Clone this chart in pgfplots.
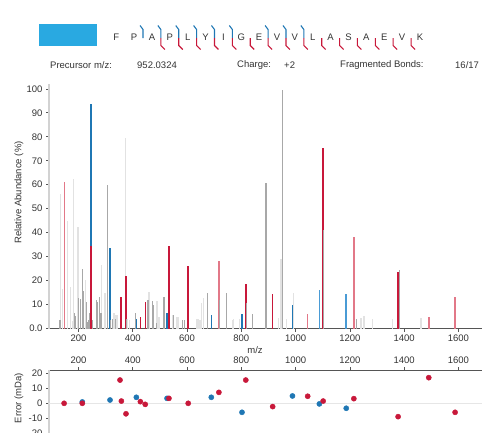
\documentclass[border=0pt]{standalone}
\usepackage{fontspec}
\setmainfont{Liberation Sans}
\usepackage{pgfplots}
\pgfplotsset{compat=1.18}
\definecolor{seqblue}{HTML}{29A9E1}
\definecolor{bblue}{HTML}{1F77B4}
\definecolor{bblue2}{HTML}{4A9BD5}
\definecolor{rred}{HTML}{C8183A}
\definecolor{rred2}{HTML}{E27888}
\definecolor{dgray}{HTML}{A8A8A8}
\definecolor{lgray}{HTML}{E2E2E2}
\definecolor{axgray}{HTML}{555555}
\definecolor{ylgray}{HTML}{D2D2D2}
\definecolor{lblgray}{HTML}{333333}
\definecolor{zgray}{HTML}{E6E6E6}
\newcommand{\lf}{\fontsize{9.5}{11}\selectfont}
\begin{document}
\begin{tikzpicture}[x=1pt,y=1pt]
\useasboundingbox (0pt,0pt) rectangle (482pt,-432pt);
\clip (0pt,0pt) rectangle (482pt,-432pt);
% header
\fill[seqblue] (39pt,-24pt) rectangle (97pt,-46pt);
\foreach \l [count=\i from 0] in {F,P,A,P,L,Y,I,G,E,V,V,L,A,S,A,E,V,K}
  \node[font=\lf, text=lblgray, inner sep=0pt] at ({116.2pt+17.87pt*\i},-37pt) {\l};
\foreach \k in {2,3,4,5,6,7,9,10,11}
  \draw[bblue, line width=1.1pt] ({116.2pt+17.87pt*(\k-0.5)-3pt},-25.5pt) -- ({116.2pt+17.87pt*(\k-0.5)},-29.5pt) -- ({116.2pt+17.87pt*(\k-0.5)},-38pt);
\foreach \k in {3,4,5,6,7,8,9,10,11,12,13,14,15,16,17}
  \draw[rred, line width=1.1pt] ({116.2pt+17.87pt*(\k-0.5)},-38pt) -- ({116.2pt+17.87pt*(\k-0.5)},-45.5pt) -- ({116.2pt+17.87pt*(\k-0.5)+4pt},-49.5pt);
\node[font=\lf, text=lblgray, anchor=west, inner sep=0pt] at (50pt,-65pt) {Precursor m/z:};
\node[font=\lf, text=lblgray, anchor=west, inner sep=0pt] at (137pt,-65pt) {952.0324};
\node[font=\lf, text=lblgray, anchor=west, inner sep=0pt] at (237pt,-65pt) {Charge:};
\node[font=\lf, text=lblgray, anchor=west, inner sep=0pt] at (284pt,-65pt) {+2};
\node[font=\lf, text=lblgray, anchor=west, inner sep=0pt] at (340pt,-65pt) {Fragmented Bonds:};
\node[font=\lf, text=lblgray, anchor=west, inner sep=0pt] at (455pt,-65pt) {16/17};
% main spectrum
\begin{axis}[
  at={(49pt,-328.6pt)}, anchor=south west,
  scale only axis, width=433pt, height=244.6pt,
  xmin=91.3, xmax=1687, ymin=0, ymax=102,
  axis x line=bottom, axis y line=left,
  axis line style={-},
  x axis line style={draw=axgray, line width=0.7pt},
  y axis line style={draw=ylgray, line width=1.8pt},
  xtick={200,400,...,1600}, ytick={0,10,...,100},
  yticklabels={0.0,10,20,30,40,50,60,70,80,90,100},
  tick align=outside, major tick length=3pt,
  tick style={draw=axgray, line width=0.6pt},
  ticklabel style={font=\lf, text=lblgray},
  /pgf/number format/assume math mode=true,
  /pgf/number format/1000 sep={},
  scaled ticks=false,
]
\addplot[ycomb, draw=lgray, line width=1.2pt, mark=none] coordinates {
(135,56) (140,16.5) (159,45) (170,17.2) (177,3.2) (182,62.3) (198,42.5) (226,20.4)
(284,26.5) (298,14.7) (331,6.7) (338,5.6) (342,5.8) (373,79.4) (380,4) (389,3.5)
(460,15.2) (489,11.5) (497,5) (548,5.6) (563,5) (567,4.8) (637,4) (643,4) (648,3.6)
(653,10.8) (660,12.6) (768,3.4) (772,4) (792,3.9) (938,4.4) (946,29) (967,4) (993,14.7)
(1241,4.5) (1252,5.2) (1283,4.2) (1358,4.2) (1462,4.6)
};
\addplot[ycomb, draw=bblue, line width=1.6pt, mark=none] coordinates {
(245.1,93.7) (316.2,33.8) (413.2,4.1) (526.3,6.4) (689.4,5.8) (802.5,6) (988.5,9.9)
};
\addplot[ycomb, draw=bblue2, line width=1.6pt, mark=none] coordinates {
(1087.6,16.1) (1186.7,14.3)
};
\addplot[ycomb, draw=dgray, line width=0.8pt, mark=none] coordinates {
(1381,24.4)
};
\addplot[ycomb, draw=rred2, line width=1.6pt, mark=none] coordinates {
(148.1,61.3) (247.5,22.4) (717.4,28.4) (1044.6,6.1) (1214.7,38.4) (1490.8,5) (1587.9,13.3)
};
\addplot[ycomb, draw=rred, line width=1.6pt, mark=none] coordinates {
(246.2,34.3) (357.2,13.3) (375.2,22) (376.6,21.5) (428.3,5) (446.3,11.2) (533.3,34.6)
(604.3,26.1) (816.5,18.8) (915.6,14.3) (1101.6,75.5) (1377.8,23.8)
};
\addplot[ycomb, draw=dgray, line width=1.1pt, mark=none] coordinates {
(132,3.6) (185,6.4) (189,5.4) (199,12.6) (209,12.5) (216,24.8) (219,15.5) (231,11) (234,2.9)
(237,3.6) (242,6.3) (252,3.4) (265,11.9) (270,11.3) (276,3) (278,13) (283,6.5) (305.5,60)
(308,3) (317,3.5) (325,4) (336,4) (378,4) (411,6.7) (456,11.9) (472,11.5) (475,10)
(487,2.5) (515,13) (518,8) (550,5.7) (584,3.6) (590,3.4) (674,15) (719,12.1) (745,15)
(818,10.8) (840,6) (891,60.6) (893,5.8) (952,99.6) (1103,41) (1226,3.9)
};
\end{axis}
\node[font=\lf, text=lblgray, rotate=90] at (19pt,-192.5pt) {Relative Abundance (\%)};
\node[font=\lf, text=lblgray] at (255pt,-350pt) {m/z};
% error plot
\begin{axis}[
  at={(49pt,-370pt)}, anchor=north west,
  scale only axis, width=433pt, height=66.6pt,
  xmin=91.3, xmax=1687, ymin=-22.2, ymax=22.2,
  axis x line=top, axis y line=left,
  axis line style={-},
  x axis line style={draw=axgray, line width=0.7pt},
  y axis line style={draw=ylgray, line width=1.8pt},
  xtick={200,400,...,1600}, ytick={-20,-10,0,10,20},
  tick align=outside, major tick length=3pt,
  tick style={draw=axgray, line width=0.6pt},
  ticklabel style={font=\lf, text=lblgray},
  /pgf/number format/assume math mode=true,
  /pgf/number format/1000 sep={},
  scaled ticks=false, clip=false,
]
\addplot[draw=zgray, line width=0.8pt, mark=none] coordinates {(91.3,0) (1687,0)};
\addplot[only marks, color=bblue, mark=*, mark size=2.6pt, mark options={draw=bblue, fill=bblue}] coordinates {
(214,0.9) (316.2,2.2) (413.2,4) (526.3,3.3) (689.4,4) (802.5,-6) (988.5,4.9) (1087.6,-0.4) (1186.7,-3.3)
};
\addplot[only marks, color=rred, mark=*, mark size=2.6pt, mark options={draw=rred, fill=rred}] coordinates {
(147,0) (214,0) (353,15.5) (358,1.5) (375,-7) (428,1.1) (446,-0.7) (533.3,3.3) (604.3,0)
(717.4,7.3) (816.5,15.5) (915.6,-2.2) (1044.6,4.7) (1101.6,1.5) (1214.7,3.1) (1377.8,-8.9)
(1490.8,17.1) (1587.9,-6)
};
\end{axis}
\node[font=\lf, text=lblgray, rotate=90] at (19pt,-398pt) {Error (mDa)};
\end{tikzpicture}
\end{document}
